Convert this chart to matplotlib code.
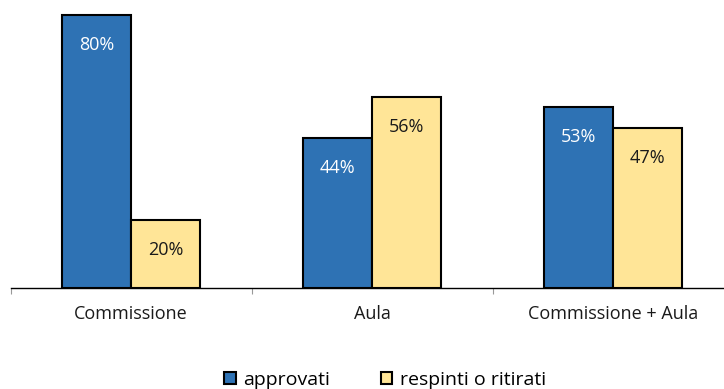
import numpy as np
import matplotlib.pyplot as plt
from matplotlib.patches import Patch

categories = ["Commissione", "Aula", "Commissione + Aula"]
approvati = [80, 44, 53]
respinti = [20, 56, 47]
series_names = ["approvati", "respinti o ritirati"]

blue = "#2E72B4"
yellow = "#FFE597"

plt.rcParams["font.family"] = ["Open Sans", "DejaVu Sans"]

fig = plt.figure(figsize=(7.24, 3.89), dpi=100)
# axes: baseline at y=288px, x from ~10px, slightly past the right edge
ax = fig.add_axes([10.5 / 724, 101 / 389, 723 / 724, 286.4 / 389])

x = np.arange(len(categories))
w = 0.287

b1 = ax.bar(x - w / 2, approvati, w, color=blue, edgecolor="black", linewidth=1.5)
b2 = ax.bar(x + w / 2, respinti, w, color=yellow, edgecolor="black", linewidth=1.5)

for rect, v in zip(b1, approvati):
    ax.annotate(f"{v}%", (rect.get_x() + rect.get_width() / 2, v),
                xytext=(0, -30), textcoords="offset pixels",
                ha="center", va="center", color="white", fontsize=13)
for rect, v in zip(b2, respinti):
    ax.annotate(f"{v}%", (rect.get_x() + rect.get_width() / 2, v),
                xytext=(0, -30), textcoords="offset pixels",
                ha="center", va="center", color="#1a1a1a", fontsize=13)

ax.set_xlim(-0.5, 2.5)
ax.set_ylim(0, 84)

for s in ["top", "right", "left"]:
    ax.spines[s].set_visible(False)
ax.spines["bottom"].set_linewidth(1)
ax.set_yticks([])

ax.set_xticks(x)
ax.set_xticklabels(categories, fontsize=13, color="#1a1a1a")
ax.tick_params(axis="x", length=0, pad=12)
# small boundary ticks between categories
ax.set_xticks([-0.5, 0.5, 1.5], minor=True)
ax.tick_params(axis="x", which="minor", length=4, width=0.8, color="#999999")

handles = [Patch(facecolor=blue, edgecolor="black", linewidth=1.5),
           Patch(facecolor=yellow, edgecolor="black", linewidth=1.5)]
fig.legend(handles, series_names, loc="lower center", bbox_to_anchor=(0.532, -0.045),
           ncol=2, frameon=False, fontsize=14, handlelength=0.6, handleheight=0.6,
           handletextpad=0.4, columnspacing=2.6)

fig.savefig("out.png", dpi=100)
